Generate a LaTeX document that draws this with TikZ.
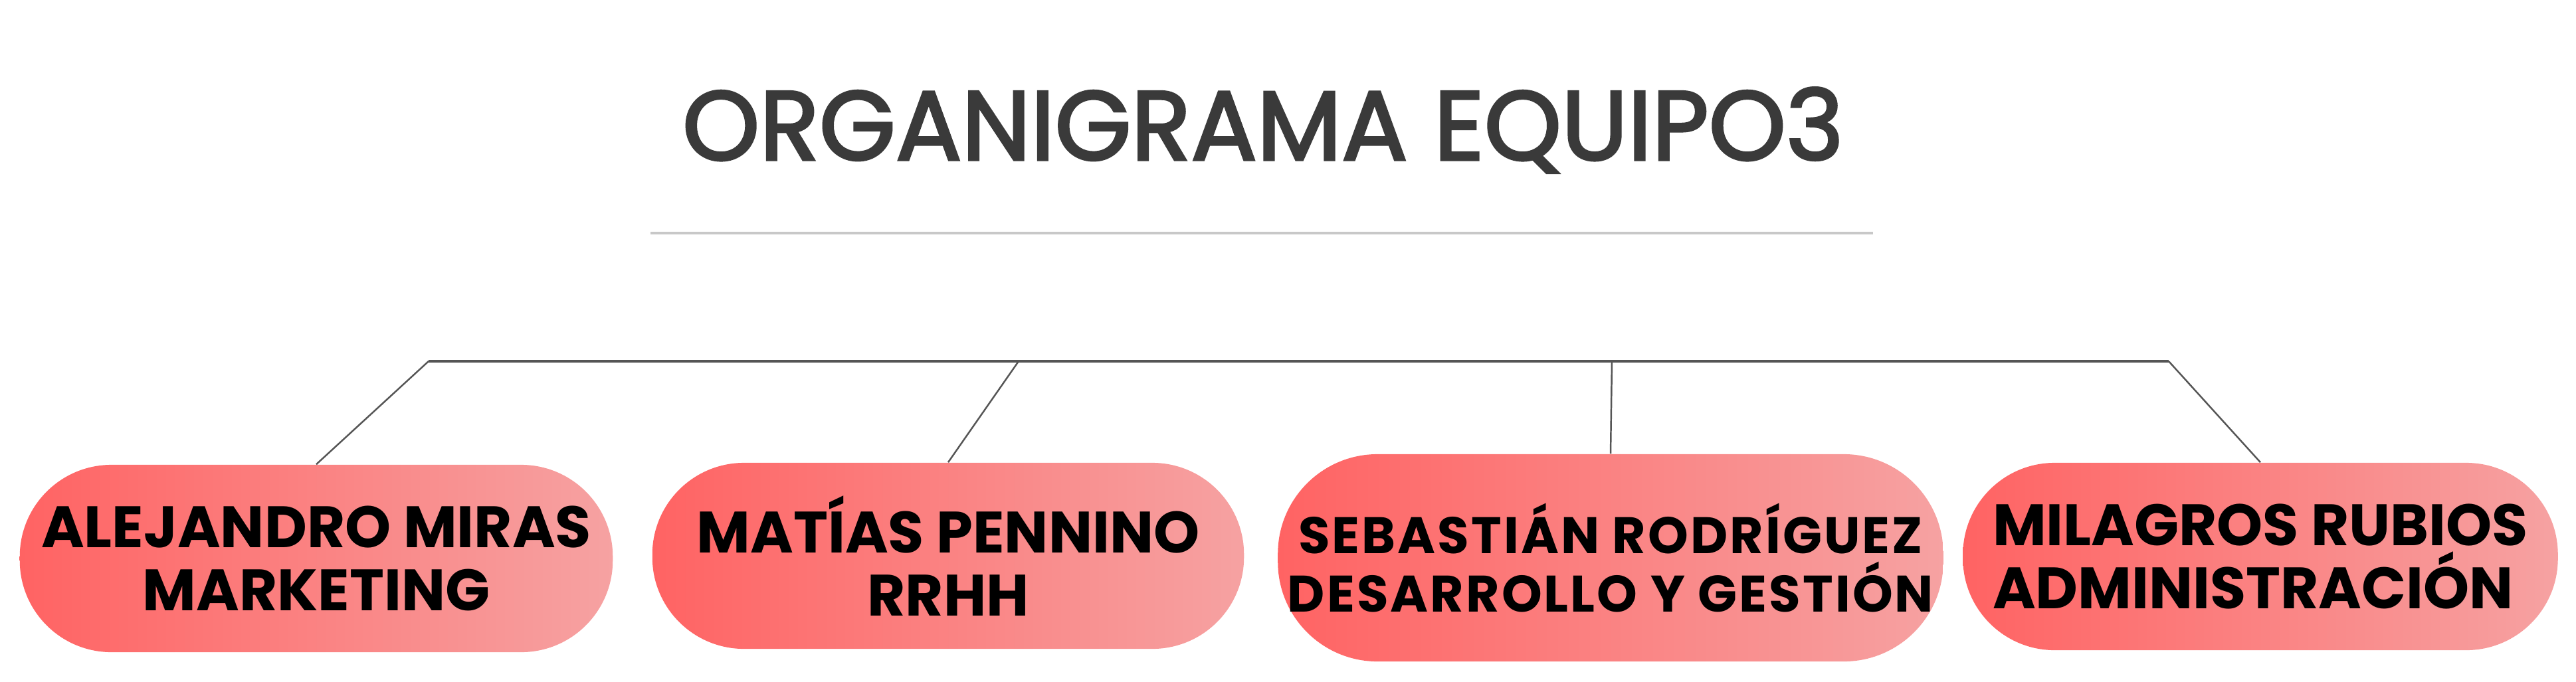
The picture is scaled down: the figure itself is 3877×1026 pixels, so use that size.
\documentclass[tikz,border=0pt]{standalone}
\usepackage{fontspec}
\setmainfont{Poppins}
\definecolor{boxL}{RGB}{255,99,99}
\definecolor{boxR}{RGB}{246,162,162}
\definecolor{titleC}{RGB}{58,58,58}
\definecolor{lineC}{RGB}{85,85,85}
\definecolor{sepC}{RGB}{200,200,200}
\tikzset{
  pbox/.style={rectangle, rounded corners=1.38cm, left color=boxL, right color=boxR,
    inner sep=0pt, align=center, text=black,
    font=\fontsize{25}{27}\selectfont\bfseries},
  conn/.style={draw=lineC, line width=0.7pt},
  bus/.style={draw=lineC, line width=1.3pt},
  sepline/.style={draw=sepC, line width=1.1pt},
}
\begin{document}
\begin{tikzpicture}[x=0.01cm,y=-0.01cm]
\path[use as bounding box] (0,0) rectangle (3877,1026);
\node[font=\fontsize{42}{42}\selectfont\addfontfeature{FakeBold=2.5}, text=titleC] (title) at (1901,196) {ORGANIGRAMA EQUIPO3};
\coordinate (s1) at (979,351);
\coordinate (s2) at (2819,351);
\draw[sepline] (s1) -- (s2);

\node[pbox, minimum width=8.92cm, minimum height=2.82cm] (b1) at (476,841) {ALEJANDRO MIRAS\\MARKETING};
\node[pbox, minimum width=8.90cm, minimum height=2.80cm] (b2) at (1427,837) {MATÍAS PENNINO\\RRHH};
\node[pbox, minimum width=10.01cm, minimum height=3.12cm, rounded corners=1.5cm, font=\fontsize{22}{25}\selectfont\bfseries\addfontfeature{LetterSpace=4}] (b3) at (2424,840) {SEBASTIÁN RODRÍGUEZ\\DESARROLLO Y GESTIÓN};
\node[pbox, minimum width=8.95cm, minimum height=2.82cm, align=left] (b4) at (3402,838) {MILAGROS RUBIOS\\ADMINISTRACIÓN};

\coordinate (j1) at (645,544);
\coordinate (j2) at (1533,544);
\coordinate (j3) at (2426,544);
\coordinate (j4) at (3264,544);
\draw[bus] (j1) -- (j4);
\draw[conn] (j1) -- (b1.north);
\draw[conn] (j2) -- (b2.north);
\draw[conn] (j3) -- (b3.north);
\draw[conn] (j4) -- (b4.north);
\end{tikzpicture}
\end{document}
